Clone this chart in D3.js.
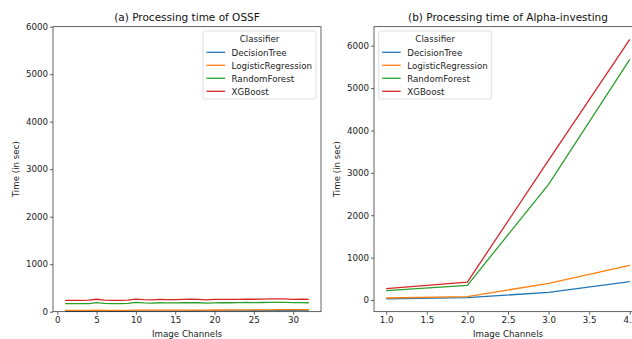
<!DOCTYPE html>
<html>
<head>
<meta charset="utf-8">
<script src="https://cdn.jsdelivr.net/npm/d3@7"></script>
<style>
  body { margin: 0; background: #fff; }
  svg { font-family: "DejaVu Sans", sans-serif; display: block; }
</style>
</head>
<body>
<div id="plot"></div>
<script>
const classifiers = ['DecisionTree', 'LogisticRegression', 'RandomForest', 'XGBoost'];
const colors = ['#1f77b4', '#ff7f0e', '#2ca02c', '#d62728'];

// (a) OSSF, channels 1..32
const channelsA = d3.range(1, 33);
const ossfDT  = [10,10,10,10,12,10,10,10,10,12,12,12,13,13,13,14,15,15,16,17,17,18,18,19,20,20,21,22,24,28,26,25];
const ossfLR  = [30,30,30,30,32,30,30,30,30,32,32,32,33,33,33,34,35,35,35,36,36,37,37,38,38,40,40,42,45,42,42,40];
const ossfRF  = [170,170,170,172,192,175,170,170,175,195,185,182,188,185,185,188,190,188,180,186,188,188,190,195,192,194,198,196,195,190,192,188];
const ossfXGB = [240,240,240,242,262,245,240,240,245,265,255,250,258,255,255,258,262,258,248,258,258,258,260,265,262,265,272,270,268,260,262,258];

// (b) Alpha-investing, channels 1..4
const channelsB = [1, 2, 3, 4];
const alphaDT  = [25, 55, 180, 432];
const alphaLR  = [47, 78, 394, 818];
const alphaRF  = [220, 347, 2730, 5675];
const alphaXGB = [266, 424, 3300, 6150];

const yTicks = [0, 1000, 2000, 3000, 4000, 5000, 6000];
const xTicksA = [0, 5, 10, 15, 20, 25, 30];
const xTicksB = [1.0, 1.5, 2.0, 2.5, 3.0, 3.5, 4.0];

const width = 632, height = 339;
const fs = 8.7;
const svg = d3.select('#plot').append('svg')
  .attr('width', width).attr('height', height);

function panel(opts) {
  const { left, right, top, bottom, xs, series, xDomain, yDomain, xTicks, xFmt, title, legendX } = opts;
  const x = d3.scaleLinear().domain(xDomain).range([left, right]);
  const y = d3.scaleLinear().domain(yDomain).range([bottom, top]);
  const g = svg.append('g');

  const line = d3.line().x((d, i) => x(xs[i])).y(d => y(d));
  series.forEach((s, k) => {
    g.append('path').datum(s)
      .attr('d', line)
      .attr('fill', 'none')
      .attr('stroke', colors[k])
      .attr('stroke-width', 1.3);
  });

  const xAxis = d3.axisBottom(x).tickValues(xTicks).tickFormat(xFmt).tickSize(3).tickPadding(2);
  const yAxis = d3.axisLeft(y).tickValues(yTicks).tickFormat(d3.format('d')).tickSize(3).tickPadding(2);

  [g.append('g').attr('transform', `translate(0,${bottom})`).call(xAxis),
   g.append('g').attr('transform', `translate(${left},0)`).call(yAxis)].forEach(a => {
    a.select('.domain').remove();
    a.selectAll('line').attr('stroke', '#222').attr('stroke-width', 0.7);
    a.selectAll('text').attr('font-size', fs).attr('fill', '#222')
      .attr('font-family', 'DejaVu Sans');
  });

  g.append('rect')
    .attr('x', left).attr('y', top)
    .attr('width', right - left).attr('height', bottom - top)
    .attr('fill', 'none').attr('stroke', '#222').attr('stroke-width', 0.7);

  g.append('text')
    .attr('x', (left + right) / 2).attr('y', 21)
    .attr('text-anchor', 'middle').attr('font-size', 10.5).attr('fill', '#111')
    .text(title);

  g.append('text')
    .attr('x', opts.xLabelX).attr('y', 337)
    .attr('text-anchor', 'middle').attr('font-size', fs).attr('fill', '#222')
    .text('Image Channels');

  g.append('text')
    .attr('transform', `translate(${opts.yLabelX},${(top + bottom) / 2}) rotate(-90)`)
    .attr('text-anchor', 'middle').attr('font-size', fs).attr('fill', '#222')
    .text('Time (in sec)');

  // legend
  const lg = g.append('g').attr('transform', `translate(${legendX},31)`);
  lg.append('rect').attr('width', 113).attr('height', 68).attr('rx', 2)
    .attr('fill', 'white').attr('fill-opacity', 0.8)
    .attr('stroke', '#d0d0d0').attr('stroke-width', 0.7);
  lg.append('text').attr('x', 56.5).attr('y', 11.3).attr('text-anchor', 'middle')
    .attr('font-size', fs).attr('fill', '#222').text('Classifier');
  classifiers.forEach((c, k) => {
    const yy = 21.3 + k * 13;
    lg.append('line').attr('x1', 3.5).attr('x2', 22).attr('y1', yy).attr('y2', yy)
      .attr('stroke', colors[k]).attr('stroke-width', 1.3);
    lg.append('text').attr('x', 28.5).attr('y', yy + 3.2)
      .attr('font-size', fs).attr('fill', '#222').text(c);
  });
}

panel({
  left: 53, right: 321, top: 26.7, bottom: 311.7,
  xs: channelsA, series: [ossfDT, ossfLR, ossfRF, ossfXGB],
  xDomain: [-0.55, 33.55], yDomain: [0, 6000],
  xTicks: xTicksA, xFmt: d3.format('d'),
  title: '(a) Processing time of OSSF',
  legendX: 203, xLabelX: 187, yLabelX: 19
});

panel({
  left: 374, right: 642, top: 26.7, bottom: 311.7,
  xs: channelsB, series: [alphaDT, alphaLR, alphaRF, alphaXGB],
  xDomain: [0.85, 4.15], yDomain: [-276, 6448],
  xTicks: xTicksB, xFmt: d3.format('.1f'),
  title: '(b) Processing time of Alpha-investing',
  legendX: 378.7, xLabelX: 508, yLabelX: 340
});
</script>
</body>
</html>
